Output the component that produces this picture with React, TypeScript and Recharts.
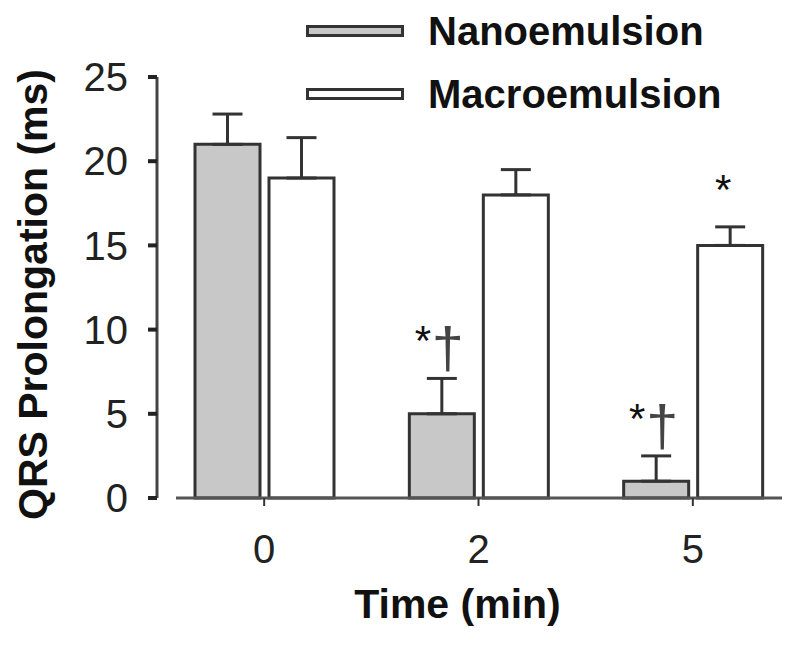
import { BarChart, Bar, XAxis, YAxis, ErrorBar, ReferenceLine, Legend, Label, Rectangle } from 'recharts';

const FONT = '"Liberation Sans", Arial, Helvetica, sans-serif';

// values (ms)
const timePoints = ['0', '2', '5'];
const nanoMeans = [21, 5, 1];
const nanoErrors = [1.8, 2.1, 1.5];
const nanoMarks = ['', '*†', '*†'];
const macroMeans = [19, 18, 15];
const macroErrors = [2.4, 1.5, 1.1];
const macroMarks = ['', '', '*'];
const yTicks = [0, 5, 10, 15, 20, 25];

const SERIES = [
    { key: 'nano', name: 'Nanoemulsion', fill: '#c8c8c8' },
    { key: 'macro', name: 'Macroemulsion', fill: '#ffffff' },
];

const data = timePoints.map((t, i) => ({
    time: t,
    nano: nanoMeans[i],
    nanoErr: [0, nanoErrors[i]],
    nanoMark: nanoMarks[i],
    macro: macroMeans[i],
    macroErr: [0, macroErrors[i]],
    macroMark: macroMarks[i],
}));

// bar rectangle plus the significance marks (* and †) above its error bar
function barWithMarks(key: string) {
    return (props: any) => {
        const { x, y, width, height, payload } = props;
        const value = payload[key];
        const err = payload[key + 'Err'][1];
        const errTop = y - (value ? (err * height) / value : 0);
        const chars = Array.from((payload[key + 'Mark'] as string) || '');
        const start = x + width / 2 - 7 - (chars.length - 1) * 12;
        return (
            <g>
                <Rectangle
                    x={x}
                    y={y}
                    width={width}
                    height={height}
                    fill={props.fill}
                    stroke="#333"
                    strokeWidth={3}
                />
                {chars.map((c, j) => {
                    const cx = start + j * 24;
                    if (c === '*') {
                        return (
                            <text key={j} x={cx} y={errTop - 23} textAnchor="middle"
                                fontSize={42} fontFamily={FONT} fill="#111">*</text>
                        );
                    }
                    const by = errTop - 10;
                    return (
                        <text key={j} x={0} y={0} textAnchor="middle"
                            transform={`translate(${cx + 1} ${by}) scale(1.2 1.18)`}
                            fontSize={48} fontFamily={FONT} fill="#444">{c}</text>
                    );
                })}
            </g>
        );
    };
}

function renderLegend() {
    return (
        <svg width={800} height={120}>
            {SERIES.map((s, i) => (
                <g key={s.key}>
                    <rect x={307.5} y={26.5 + i * 63} width={95} height={9}
                        fill={s.fill} stroke="#333" strokeWidth={3} />
                    <text x={428} y={45 + i * 63} fontSize={40} fontWeight="bold"
                        fontFamily={FONT} fill="#111">{s.name}</text>
                </g>
            ))}
        </svg>
    );
}

function YTitle({ viewBox }: any) {
    const cx = viewBox.x + 33;
    const cy = viewBox.y + viewBox.height / 2 + 7;
    return (
        <text x={cx} y={cy} transform={`rotate(-90 ${cx} ${cy})`} textAnchor="middle"
            dominantBaseline="central" fontSize={41} fontWeight="bold" fontFamily={FONT} fill="#111">
            QRS Prolongation (ms)
        </text>
    );
}

function XTitle({ viewBox }: any) {
    const cx = viewBox.x + viewBox.width / 2 - 21;
    const cy = viewBox.y + 106;
    return (
        <text x={cx} y={cy} textAnchor="middle" dominantBaseline="central"
            fontSize={41} fontWeight="bold" fontFamily={FONT} fill="#111">
            Time (min)
        </text>
    );
}

export default function App() {
    return (
        <div style={{ position: 'absolute', left: 0, top: 0, width: 800, height: 646, background: '#fff' }}>
            <BarChart
                width={800}
                height={646}
                data={data}
                margin={{ top: 77, right: 0, bottom: 0, left: 0 }}
                barCategoryGap={38}
                barGap={9}
            >
                <XAxis
                    dataKey="time"
                    height={148}
                    axisLine={false}
                    tickLine={{ stroke: '#333', strokeWidth: 2 }}
                    tickSize={8}
                    tickMargin={29}
                    tick={{ fontSize: 40, fill: '#222', fontFamily: FONT }}
                >
                    <Label content={XTitle} />
                </XAxis>
                <YAxis
                    width={157}
                    domain={[0, 25]}
                    ticks={yTicks}
                    interval={0}
                    tickSize={9}
                    tickMargin={20}
                    axisLine={{ stroke: '#444', strokeWidth: 3 }}
                    tickLine={{ stroke: '#222', strokeWidth: 4 }}
                    tick={{ fontSize: 40, fill: '#222', fontFamily: FONT }}
                >
                    <Label content={YTitle} />
                </YAxis>
                <Legend
                    layout="vertical"
                    align="center"
                    verticalAlign="middle"
                    wrapperStyle={{ left: 0, top: 0, width: 800 }}
                    content={renderLegend}
                />
                {SERIES.map((s) => (
                    <Bar
                        key={s.key}
                        dataKey={s.key}
                        name={s.name}
                        fill={s.fill}
                        stroke="#333"
                        strokeWidth={3}
                        shape={barWithMarks(s.key)}
                        isAnimationActive={false}
                    >
                        <ErrorBar dataKey={s.key + 'Err'} width={15} strokeWidth={3} stroke="#333" direction="y" />
                    </Bar>
                ))}
                <ReferenceLine
                    y={0}
                    shape={(p: any) => (
                        <line x1={p.x1 + 19} y1={p.y1} x2={p.x2 - 18} y2={p.y2} stroke="#555" strokeWidth={3} />
                    )}
                />
            </BarChart>
        </div>
    );
}
